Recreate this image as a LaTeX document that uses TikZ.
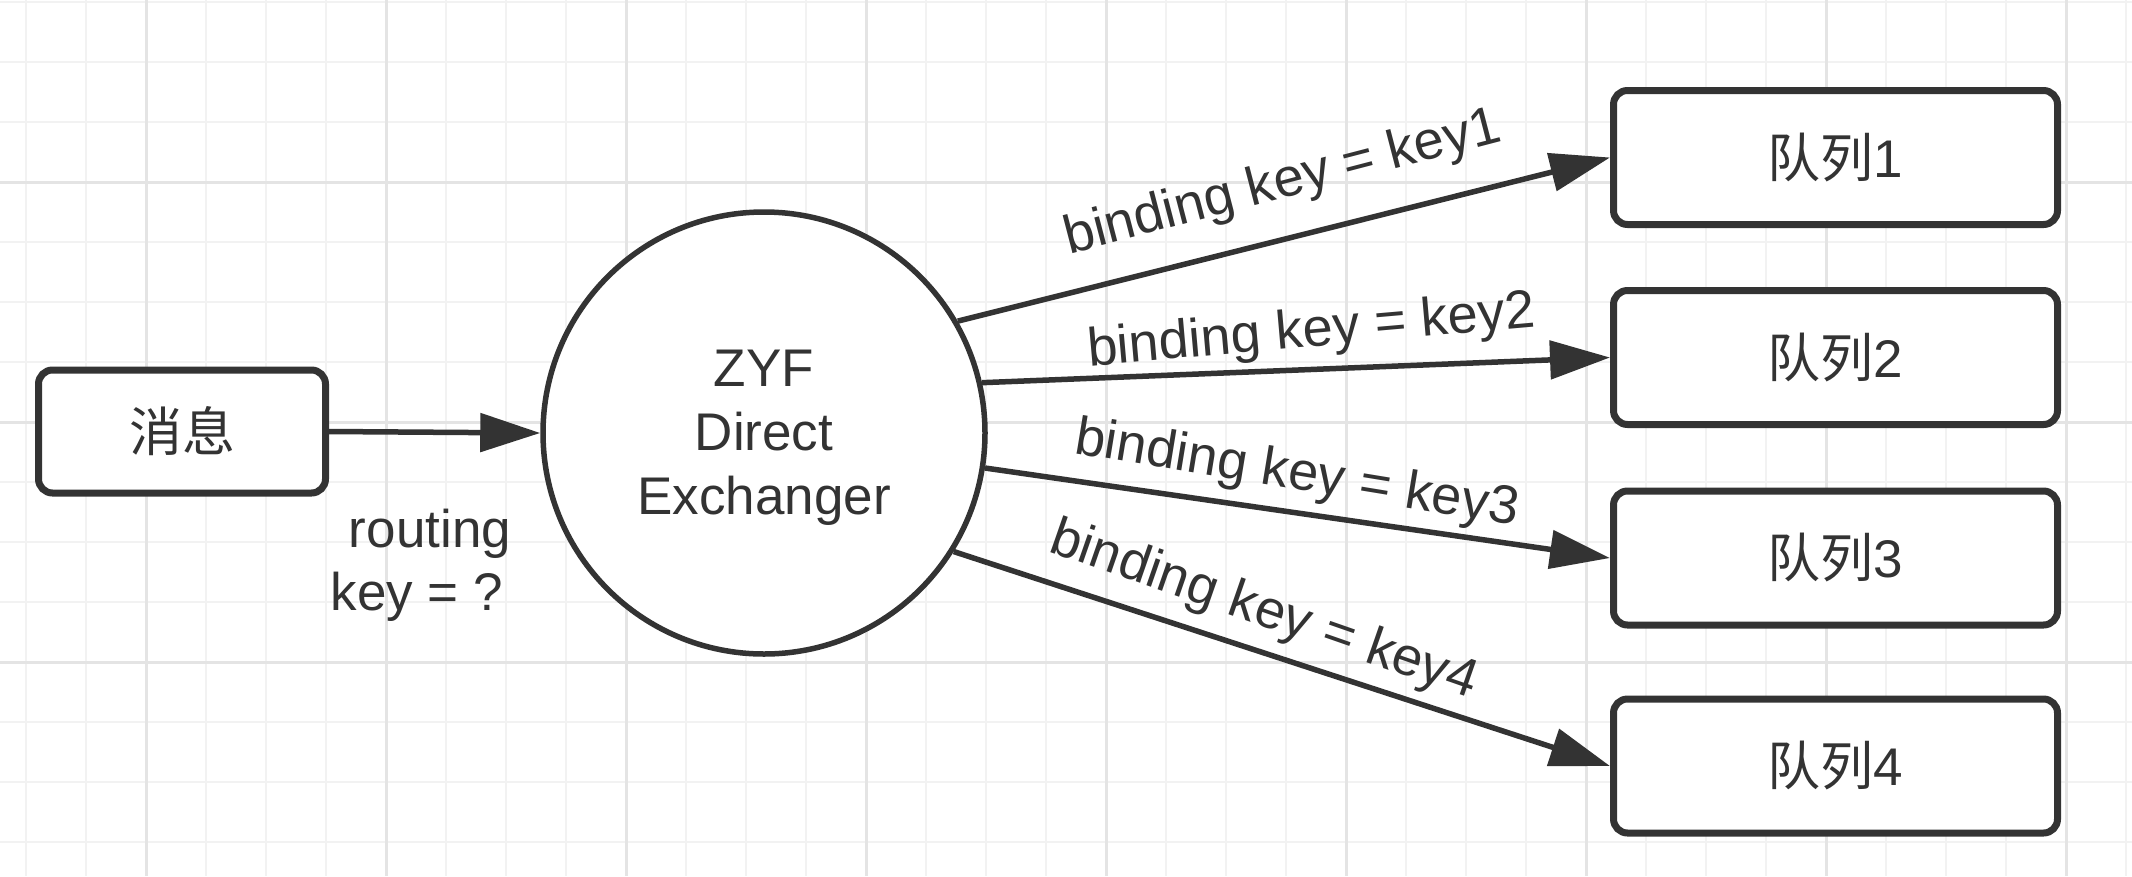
\documentclass[tikz,border=0pt]{standalone}
\usepackage{fontspec}
\setmainfont{Liberation Sans}
\newfontfamily\cjk{Noto Sans CJK SC}
\usetikzlibrary{arrows.meta}
\definecolor{ink}{HTML}{333333}
\definecolor{gridminor}{HTML}{F2F2F2}
\definecolor{gridmajor}{HTML}{E4E4E4}
\newcommand\bigtxt{\fontsize{53}{64}\selectfont}
\newcommand\lbltxt{\fontsize{54}{64}\selectfont}
\begin{document}
\begin{tikzpicture}[x=1pt,y=-1pt,
  every node/.style={font=\bigtxt, text=ink},
  qbox/.style={draw=ink, line width=7pt, rounded corners=14pt, fill=white,
    minimum width=444pt, minimum height=134pt, inner sep=0pt},
  mbox/.style={qbox, minimum width=287pt, minimum height=123pt},
  exnode/.style={circle, draw=ink, line width=5.5pt, fill=white,
    minimum size=442pt, inner sep=0pt},
  lbl/.style={inner sep=0pt, outer sep=0pt},
  edgelbl/.style={lbl, font=\lbltxt, anchor=base west},
  arr/.style={draw=ink, line width=5.5pt, -{Triangle[length=60pt,width=38pt]}},
  gminor/.style={draw=gridminor, line width=2pt},
  gmajor/.style={draw=gridmajor, line width=3pt}
]
\useasboundingbox (0,0) rectangle (2132,876);
\fill[white] (0,0) rectangle (2132,876);
% grid
\foreach \k in {0,...,35} \draw[gminor] ({26+60*\k},0) -- ({26+60*\k},876);
\foreach \k in {0,...,14} \draw[gminor] (0,{2+60*\k}) -- (2132,{2+60*\k});
\foreach \k in {0,...,8} \draw[gmajor] ({146+240*\k},0) -- ({146+240*\k},876);
\foreach \k in {0,...,2} \draw[gmajor] (0,{182+240*\k}) -- (2132,{182+240*\k});

% nodes
\node[mbox] (msg) at (182,431.5) {{\cjk 消息}};
\node[exnode] (ex) at (764,433) {};
\node[lbl, align=center] (extext) at (764,438) {ZYF\\Direct\\Exchanger};
\node[qbox] (q1) at (1835.5,157.5) {{\cjk 队列}1};
\node[qbox] (q2) at (1835.5,357.5) {{\cjk 队列}2};
\node[qbox] (q3) at (1835.5,558) {{\cjk 队列}3};
\node[qbox] (q4) at (1835.5,766) {{\cjk 队列}4};

% connectors
\draw[arr] (msg.east) -- (ex.west);
\draw[arr] (ex.30.9) -- (q1.west);
\draw[arr] (ex.13.1) -- (q2.west);
\draw[arr] (ex.-9.5) -- (q3.west);
\draw[arr] (ex.-32.7) -- (q4.west);

% labels
\node[lbl, anchor=base] (rk1) at (430,547) {routing};
\node[lbl, anchor=base] (rk2) at (417,610) {key = ?};
\node[edgelbl, rotate=14.6] (l1) at (1069,254) {binding key = key1};
\node[edgelbl, rotate=5.0] (l2) at (1089,366) {binding key = key2};
\node[edgelbl, rotate=-9.3] (l3) at (1073,453) {binding key = key3};
\node[edgelbl, rotate=-19.2] (l4) at (1047,551) {binding key = key4};
\end{tikzpicture}
\end{document}
